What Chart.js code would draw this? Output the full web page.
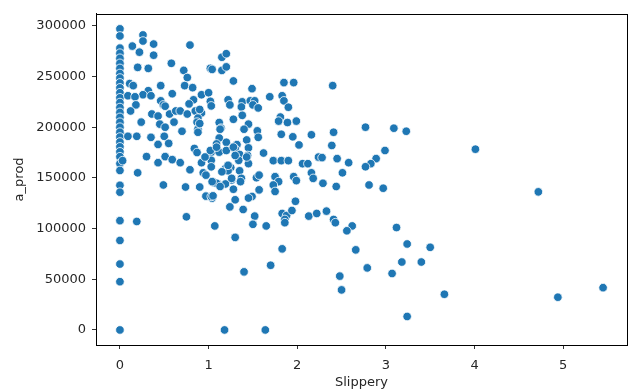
<!DOCTYPE html>
<html>
<head>
<meta charset="utf-8">
<script src="https://cdn.jsdelivr.net/npm/chart.js@4"></script>
<style>
  html, body { margin: 0; padding: 0; background: #fff; }
  #wrap { width: 633px; height: 390px; }
</style>
</head>
<body>
<div id="wrap"><canvas id="chart" width="633" height="390"></canvas></div>
<script>
// Slippery vs a_prod
const slipZero = [
  297000, 290000, 278000, 273000, 268000, 263000, 258000, 253000, 248500, 243700,
  238800, 234000, 229000, 224300, 219400, 214600, 209700, 204900, 200000, 195100,
  190300, 185400, 180600, 175700, 170900, 164100, 157300, 142700, 135900, 107800,
  88300, 65000, 47600, 0
];

const slippery = [
  0.26, 0.26, 0.38, 0.14, 0.22, 0.38, 0.79, 0.58, 0.20, 0.32, 0.72, 0.76, 1.02, 0.11, 0.15,
  0.46, 0.73, 0.82, 0.32, 0.59, 0.26, 0.35, 0.09, 0.17, 0.92, 0.83, 1.00, 0.46, 0.18, 0.49,
  0.78, 0.12, 0.36, 0.43, 0.56, 0.63, 0.68, 0.76, 0.85, 0.92, 0.88, 0.24, 0.45, 0.61, 0.87,
  0.51, 0.70, 0.88, 0.88, 0.09, 0.19, 0.35, 0.50, 0.43, 0.55, 0.84, 0.87, 0.03, 0.30, 0.51,
  0.43, 0.59, 0.68, 0.92, 0.79, 0.20, 0.94, 0.49, 0.74, 0.90, 0.97, 0.19, 0.51, 1.02, 1.15,
  1.04, 1.15, 0.97, 1.04, 1.06, 1.11, 0.75, 1.07,
  1.20, 1.20, 1.28, 1.49, 1.85, 1.96, 2.40, 1.03, 1.22, 1.24, 1.38, 1.47, 1.52, 1.37, 1.50,
  1.56, 1.69, 1.83, 1.85, 1.90, 1.81, 1.79, 1.89, 1.99, 1.38, 1.28, 1.12, 1.45, 0.90, 1.14,
  1.40, 1.55, 1.56, 2.41, 2.16, 1.82, 1.95, 2.02, 1.12, 1.09, 1.20, 1.32, 1.30, 1.35, 1.34,
  1.43, 1.45, 1.44, 1.45, 1.03, 1.12, 1.03, 0.96, 1.62, 2.39, 2.24, 2.28, 2.45, 1.73, 1.82,
  1.90, 2.06, 2.12, 2.51, 2.16, 2.18, 2.29, 1.96, 1.99, 1.75, 1.79, 1.73, 1.19, 1.25, 1.22,
  1.35, 1.37, 1.26, 1.19, 1.09, 1.04, 1.13, 1.54, 1.57, 1.75, 1.28, 1.03, 1.49, 1.45, 1.30,
  1.98, 1.24, 1.39, 1.52, 1.83, 1.88, 1.94, 1.86, 2.13, 2.22, 2.33, 2.41, 1.50, 1.65, 1.30,
  1.86, 1.83, 1.70, 1.40, 1.18, 1.64, 2.43, 2.62, 2.56, 0.90, 1.13, 1.02, 1.09, 1.20, 1.28,
  1.30, 1.43, 1.22, 1.03, 1.15, 1.26, 1.36, 1.05, 1.57,
  2.77, 3.09, 3.23, 2.99, 4.01, 2.58, 2.89, 2.83, 2.77, 2.44, 2.81, 2.97, 4.72, 3.12, 3.24,
  2.66, 3.18, 3.50, 2.79, 3.07, 3.40, 2.48, 2.50, 3.66, 3.24, 4.94, 5.45
];

const aProd = [
  291000, 285000, 282000, 280000, 274000, 271000, 281000, 263000, 259000, 258000, 256000, 249000, 258000, 243000, 241000,
  241000, 241000, 239000, 236000, 233000, 232000, 231000, 231000, 230000, 232000, 227000, 234000, 226000, 222000, 222000,
  223000, 216000, 213000, 211000, 213000, 216000, 216000, 213000, 216000, 214000, 209000, 205000, 203000, 205000, 205000,
  200000, 196000, 198000, 195000, 191000, 191000, 190000, 191000, 183000, 184000, 179000, 175000, 167000, 171000, 171000,
  165000, 168000, 165000, 165000, 158000, 155000, 155000, 143000, 141000, 141000, 132000, 107000, 220700, 225500, 269000,
  257000, 256000, 152700, 130000, 145300, 144000, 111600, 102600,
  272500, 259500, 245600, 238000, 244000, 244000, 241000, 221000, 227000, 222000, 225000, 226000, 226000, 220000, 222000,
  219000, 230000, 231000, 226000, 219700, 210000, 206000, 204600, 206000, 211700, 207800, 204600, 203000, 217500, 199000,
  198000, 196400, 190000, 195000, 192500, 193000, 190500, 182500, 189300, 183500, 185100, 182800, 178600, 173100, 167300,
  187400, 179600, 172100, 164100, 175400, 175400, 167300, 170600, 174500, 182000, 170500, 170000, 169000, 167000, 167000,
  167000, 164000, 164000, 155000, 155000, 149500, 144700, 151200, 147300, 151200, 146300, 143000, 159200, 160200, 157000,
  157000, 149500, 147900, 144000, 144700, 146300, 141500, 150200, 138200, 136600, 138800, 131700, 131700, 130100, 128400,
  126900, 121400, 118800, 112300, 114900, 112900, 117800, 109000, 112300, 114900, 117200, 109000, 104200, 102600, 91300,
  105800, 80000, 63800, 57300, 0, 0, 105800, 102600, 97800, 203600, 198000, 177000, 180300, 177000, 180300,
  172100, 170600, 162400, 160900, 156000, 149500, 146300, 132300, 152700,
  200000, 199000, 196000, 177000, 178300, 165000, 169000, 164000, 161000, 141500, 143000, 139800, 136200, 101000, 84800,
  79000, 67000, 81500, 61200, 55700, 67000, 53100, 39500, 35200, 13300, 32300, 41700
];

const xTicks = [0, 1, 2, 3, 4, 5];
const yTicks = [0, 50000, 100000, 150000, 200000, 250000, 300000];

const points = slipZero.map(v => ({ x: 0, y: v }))
  .concat(slippery.map((s, i) => ({ x: s, y: aProd[i] })));

const textColor = '#262626';
const font = { family: 'DejaVu Sans', size: 13 };

const frame = {
  id: 'frame',
  afterDraw(chart) {
    const { ctx, chartArea: a } = chart;
    ctx.save();
    ctx.strokeStyle = '#000';
    ctx.lineWidth = 1;
    ctx.strokeRect(Math.round(a.left) + 0.5, Math.round(a.top) + 0.5,
      Math.round(a.right - a.left), Math.round(a.bottom - a.top));
    ctx.restore();
  }
};

new Chart(document.getElementById('chart'), {
  type: 'scatter',
  data: {
    datasets: [{
      data: points,
      backgroundColor: '#1f77b4',
      borderColor: '#ffffff',
      borderWidth: 0.8,
      pointRadius: 4.3,
      pointHoverRadius: 4.3,
    }],
  },
  options: {
    responsive: false,
    animation: false,
    layout: { padding: { top: 8, right: 6, left: 0, bottom: 0 } },
    plugins: { legend: { display: false }, tooltip: { enabled: false } },
    scales: {
      x: {
        type: 'linear',
        min: -0.27,
        max: 5.72,
        afterBuildTicks: s => { s.ticks = xTicks.map(v => ({ value: v })); },
        afterFit: s => { s.height = 45; },
        ticks: { color: textColor, font, padding: 9, callback: v => String(v) },
        grid: { drawOnChartArea: false, drawTicks: true, tickLength: 4, color: '#333' },
        border: { display: true, color: '#000' },
        title: { display: true, text: 'Slippery', color: textColor, font, padding: { top: 1, bottom: 0 } },
      },
      y: {
        type: 'linear',
        min: -14850,
        max: 311850,
        afterBuildTicks: s => { s.ticks = yTicks.map(v => ({ value: v })); },
        afterFit: s => { s.width = 96; },
        ticks: { color: textColor, font, padding: 6, callback: v => String(v) },
        grid: { drawOnChartArea: false, drawTicks: true, tickLength: 4, color: '#333' },
        border: { display: true, color: '#000' },
        title: { display: true, text: 'a_prod', color: textColor, font, padding: { top: 12, bottom: 4 } },
      },
    },
  },
  plugins: [frame],
});
</script>
</body>
</html>
